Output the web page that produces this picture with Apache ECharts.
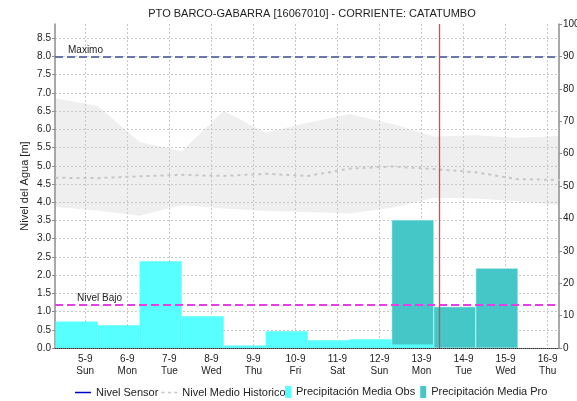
<!DOCTYPE html>
<html>
<head>
<meta charset="utf-8">
<script src="https://cdn.jsdelivr.net/npm/echarts@6/dist/echarts.min.js"></script>
<style>
  html, body { margin: 0; padding: 0; background: #fff; }
  #chart { width: 577px; height: 401px; }
</style>
</head>
<body>
<div id="chart"></div>
<script>
// Day labels along the time axis (midnight of each day)
const dayLabels = ['5-9', '6-9', '7-9', '8-9', '9-9', '10-9', '11-9', '12-9', '13-9', '14-9', '15-9', '16-9'];
const weekDays = ['Sun', 'Mon', 'Tue', 'Wed', 'Thu', 'Fri', 'Sat', 'Sun', 'Mon', 'Tue', 'Wed', 'Thu'];

// Historical level statistics at the 07:00 reading, 4-9 through 16-9 (m)
const histHigh = [6.85, 6.64, 5.65, 5.40, 6.50, 5.91, 6.18, 6.41, 6.15, 5.80, 5.84, 5.77, 5.82];
const histLow  = [3.87, 3.77, 3.63, 3.92, 3.83, 3.76, 3.73, 3.69, 3.85, 4.12, 4.10, 4.02, 3.92];
const histMean = [4.67, 4.66, 4.71, 4.75, 4.72, 4.78, 4.72, 4.92, 4.98, 4.91, 4.82, 4.63, 4.61];

// Daily precipitation (07:00 to 07:00), mm
const precipObs = [8.2, 7.0, 26.8, 9.8, 0.8, 5.2, 2.4, 2.7, 1.1];   // from 4-9
const precipPro = [39.5, 12.7, 24.6];                                 // from 12-9
const PRO_START = 8;                                                  // 12-9 counted from 4-9

// Sensor level (no readings in this period)
const nivelSensor = [];

// Reference levels (m) and current time (days from 5-9 00:00)
const levelMax = 8.0;
const levelLow = 1.2;
const nowDay = 8.43;

// Position of day i (counted from 4-9) at the 07:00 reading, in days from 5-9 00:00
const READ_HOUR = 7;
const dayPos = i => i - 1 + READ_HOUR / 24;

const FONT = 'Liberation Sans, Arial, sans-serif';
const TXT = '#222';

function precipSeries(name, values, startIdx, color, stroke, z) {
  return {
    name: name,
    type: 'custom',
    yAxisIndex: 1,
    z: z,
    clip: true,
    itemStyle: { color: color },
    encode: { x: [0, 1], y: 2 },
    data: values.map((v, i) => [dayPos(startIdx + i), dayPos(startIdx + i + 1), v]),
    renderItem: (params, api) => {
      const p0 = api.coord([api.value(0), api.value(2)]);
      const p1 = api.coord([api.value(1), 0]);
      return {
        type: 'rect',
        shape: { x: p0[0], y: p0[1], width: p1[0] - p0[0], height: p1[1] - p0[1] },
        style: { fill: color, stroke: stroke || null, lineWidth: stroke ? 1 : 0 }
      };
    }
  };
}

const chart = echarts.init(document.getElementById('chart'), null, { renderer: 'canvas' });

const legendText = { fontSize: 11, color: TXT, fontFamily: FONT };

chart.setOption({
  animation: false,
  backgroundColor: '#fff',
  textStyle: { fontFamily: FONT },
  title: {
    text: 'PTO BARCO-GABARRA [16067010] - CORRIENTE: CATATUMBO',
    left: 307, top: 3, textAlign: 'center',
    textStyle: { fontSize: 11, fontWeight: 'normal', color: TXT, fontFamily: FONT }
  },
  legend: [
    {
      bottom: 3, left: 75, padding: 0,
      itemWidth: 16, itemHeight: 12, itemGap: 3,
      textStyle: legendText,
      data: [
        { name: 'Nivel Sensor', icon: 'path://M0 0h16v1.5H0z' },
        { name: 'Nivel Medio Historico', icon: 'path://M0 0h3v1.5H0zM6.5 0h3v1.5h-3zM13 0h3v1.5h-3z' }
      ]
    },
    {
      bottom: 3, left: 285, padding: 0,
      itemWidth: 6, itemHeight: 12, itemGap: 5,
      textStyle: legendText,
      data: [
        { name: 'Precipitación Media Obs', icon: 'path://M0 0h6v12H0z' },
        { name: 'Precipitación Media Pro', icon: 'path://M0 0h6v12H0z' }
      ]
    }
  ],
  grid: { left: 55, right: 18, top: 24, bottom: 53, outerBoundsMode: 'none', containLabel: false },
  xAxis: {
    type: 'value',
    min: -0.72, max: 11.27,
    splitNumber: 12, minInterval: 1, maxInterval: 1,
    axisLine: { lineStyle: { color: '#333', type: 'dotted', width: 1 } },
    axisTick: { show: false },
    axisLabel: {
      color: TXT, fontSize: 10, lineHeight: 12, margin: 5, fontFamily: FONT,
      showMinLabel: false, showMaxLabel: false,
      formatter: v => {
        const i = Math.round(v);
        return (Math.abs(v - i) < 1e-6 && dayLabels[i]) ? dayLabels[i] + '\n' + weekDays[i] : '';
      }
    },
    splitLine: { show: true, showMinLine: false, showMaxLine: false, lineStyle: { color: '#c8c8c8', type: [2, 2] } }
  },
  yAxis: [
    {
      type: 'value',
      min: 0, max: levelMax / 0.9, interval: 0.5,
      position: 'left',
      name: 'Nivel del Agua [m]',
      nameLocation: 'middle', nameGap: 25, nameMoveOverlap: false,
      nameTextStyle: { fontSize: 11, color: TXT, fontFamily: FONT },
      axisLine: { show: true, onZero: false, lineStyle: { color: '#8c8c8c', width: 1.5 } },
      axisTick: { show: true, length: 3, lineStyle: { color: '#8c8c8c' } },
      axisLabel: { color: TXT, fontSize: 10, margin: 4, showMaxLabel: false, fontFamily: FONT, formatter: v => v.toFixed(1) },
      splitLine: { show: true, showMaxLine: false, lineStyle: { color: '#c8c8c8', type: [2, 2] } }
    },
    {
      type: 'value',
      min: 0, max: 100, interval: 10,
      position: 'right',
      axisLine: { show: true, onZero: false, lineStyle: { color: '#8c8c8c', width: 1.5 } },
      axisTick: { show: true, length: 3, lineStyle: { color: '#8c8c8c' } },
      axisLabel: { color: TXT, fontSize: 10, margin: 4, fontFamily: FONT },
      splitLine: { show: false }
    }
  ],
  series: [
    {
      name: 'Rango Historico',
      type: 'custom',
      z: -1,
      clip: true,
      silent: true,
      data: [[dayPos(0), histLow[0]]],
      renderItem: (params, api) => {
        const upper = histHigh.map((v, i) => api.coord([dayPos(i), v]));
        const lower = histLow.map((v, i) => api.coord([dayPos(i), v])).reverse();
        return { type: 'polygon', shape: { points: upper.concat(lower) }, style: { fill: '#efefef' } };
      }
    },
    {
      name: 'Nivel Sensor',
      type: 'line',
      data: nivelSensor,
      symbol: 'none',
      lineStyle: { color: '#0000cc', width: 1.5 },
      itemStyle: { color: '#0000cc' }
    },
    {
      name: 'Nivel Medio Historico',
      type: 'line',
      z: 3,
      data: histMean.map((v, i) => [dayPos(i), v]),
      symbol: 'none',
      lineStyle: { color: '#c6c6c6', width: 2, type: [3, 4] },
      itemStyle: { color: '#c6c6c6' },
      markLine: {
        silent: true,
        symbol: 'none',
        data: [
          {
            yAxis: levelMax,
            lineStyle: { color: '#6a78a4', width: 2, type: [8, 4] },
            label: { show: true, formatter: 'Maximo', position: 'insideStartTop', distance: [13, 1], color: TXT, fontSize: 10, fontFamily: FONT }
          },
          {
            yAxis: levelLow,
            lineStyle: { color: '#e83ee8', width: 2, type: [8, 4] },
            label: { show: true, formatter: 'Nivel Bajo', position: 'insideStartTop', distance: [22, 1], color: TXT, fontSize: 10, fontFamily: FONT }
          },
          {
            xAxis: nowDay,
            lineStyle: { color: '#ff3a3a', width: 1.3, type: 'solid' },
            label: { show: false }
          }
        ]
      }
    },
    precipSeries('Precipitación Media Pro', precipPro, PRO_START, '#46c7c7', 'rgba(255,255,255,0.55)', 2),
    precipSeries('Precipitación Media Obs', precipObs, 0, '#57ffff', null, 2.5)
  ]
});
</script>
</body>
</html>
